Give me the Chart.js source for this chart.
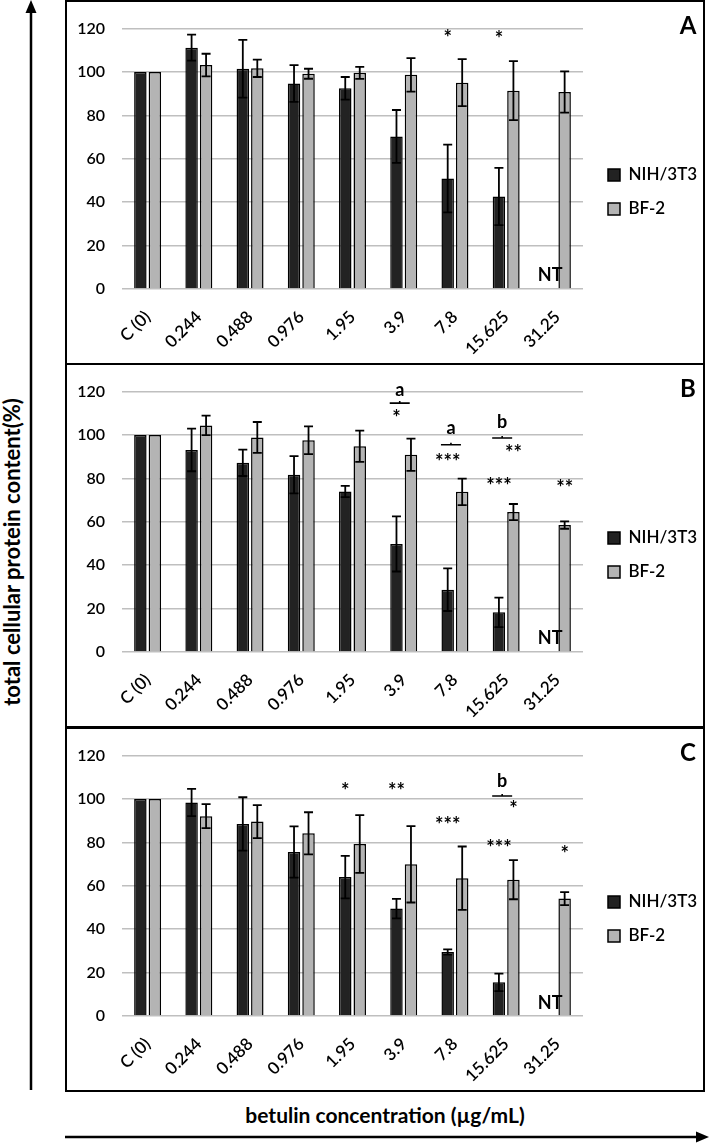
<!DOCTYPE html>
<html>
<head>
<meta charset="utf-8">
<script src="https://cdn.jsdelivr.net/npm/chart.js@4.4.1/dist/chart.umd.min.js"></script>
<style>
  html, body { margin: 0; padding: 0; background: #fff; }
  body { width: 709px; height: 1143px; position: relative; overflow: hidden; font-family: Lato, sans-serif; }
  .panel { position: absolute; left: 65px; width: 636px; height: 361px; border: 2px solid #000; }
  .panel canvas { position: absolute; left: 0; top: 0; }
  .letter { position: absolute; left: 606px; width: 30px; top: 9px; text-align: center; font: bold 24px Lato, sans-serif; line-height: 28px; }
  #ytitle { position: absolute; left: 11px; top: 552px; transform: translate(-50%, -50%) rotate(-90deg); white-space: nowrap; font: bold 22px Lato, sans-serif; }
  #xtitle { position: absolute; left: 385px; top: 1114px; transform: translate(-50%, -50%); white-space: nowrap; font: bold 21px Lato, sans-serif; }
  svg { position: absolute; left: 0; top: 0; }
</style>
</head>
<body>
<svg width="709" height="1143">
  <line x1="31" y1="1090" x2="31" y2="10" stroke="#000" stroke-width="2.5"/>
  <polygon points="31,0 25.5,13 36.5,13" fill="#000"/>
  <line x1="65" y1="1137" x2="698" y2="1137" stroke="#000" stroke-width="2.5"/>
  <polygon points="709,1137 696,1131.5 696,1142.5" fill="#000"/>
</svg>
<div class="panel" style="top:0px"><canvas id="chartA" width="636" height="361"></canvas><div class="letter">A</div></div>
<div class="panel" style="top:363px"><canvas id="chartB" width="636" height="361"></canvas><div class="letter">B</div></div>
<div class="panel" style="top:727px"><canvas id="chartC" width="636" height="361"></canvas><div class="letter">C</div></div>
<div id="ytitle">total cellular protein content(%)</div>
<div id="xtitle">betulin concentration (µg/mL)</div>
<script>
const categories = ['C (0)', '0.244', '0.488', '0.976', '1.95', '3.9', '7.8', '15.625', '31.25'];
const yTicks = [0, 20, 40, 60, 80, 100, 120];

// panel A
const nihA = [100, 111.2, 101.5, 94.7, 92.5, 70.3, 50.9, 42.6, null];
const nihErrA = [0, 6, 13.3, 8.5, 5.2, 12.2, 15.6, 13.2, null];
const bfA = [100, 103.2, 101.7, 99.2, 99.6, 98.7, 95.1, 91.4, 90.8];
const bfErrA = [0, 5.2, 4, 2.3, 2.8, 7.7, 10.8, 13.6, 9.5];
const marksA = [
    { cat: '7.8', series: 0, y: 115, text: '*' },
    { cat: '15.625', series: 0, y: 114.3, text: '*' },
    { cat: '31.25', series: 0, y: 6.4, text: 'NT' },
];
const bracketsA = [];

// panel B
const nihB = [100, 93.1, 87.2, 81.7, 74, 49.8, 28.7, 18.3, null];
const nihErrB = [0, 9.8, 6.1, 8.6, 2.6, 12.7, 9.8, 6.8, null];
const bfB = [100, 104.4, 98.9, 97.6, 94.8, 90.9, 73.8, 64.5, 58.5];
const bfErrB = [0, 4.5, 7.1, 6.4, 7.2, 7.4, 6.1, 3.7, 1.7];
const marksB = [
    { cat: '3.9', series: 0, y: 107, text: '*' },
    { cat: '7.8', series: 0, y: 86.9, text: '***' },
    { cat: '15.625', series: 0, y: 75.7, text: '***' },
    { cat: '15.625', series: 1, y: 91, text: '**' },
    { cat: '31.25', series: 1, y: 74.7, text: '**' },
    { cat: '31.25', series: 0, y: 6.2, text: 'NT' },
];
const bracketsB = [
    { cat: '3.9', y: 114.7, label: 'a', labelY: 120.6 },
    { cat: '7.8', y: 95.5, label: 'a', labelY: 103.2 },
    { cat: '15.625', y: 98.6, label: 'b', labelY: 105.7 },
];

// panel C
const nihC = [100, 98.4, 88.5, 75.6, 64, 49.5, 29.5, 15.5, null];
const nihErrC = [0, 6.3, 12.3, 11.8, 9.8, 4.5, 1.2, 4, null];
const bfC = [100, 92.1, 89.6, 84.2, 79.3, 69.9, 63.5, 62.8, 54.1];
const bfErrC = [0, 5.5, 7.6, 9.7, 13.3, 17.6, 14.6, 9, 3];
const marksC = [
    { cat: '1.95', series: 0, y: 102.9, text: '*' },
    { cat: '3.9', series: 0, y: 102.9, text: '**' },
    { cat: '7.8', series: 0, y: 87.1, text: '***' },
    { cat: '15.625', series: 0, y: 76.8, text: '***' },
    { cat: '15.625', series: 1, y: 94.5, text: '*' },
    { cat: '31.25', series: 1, y: 74.1, text: '*' },
    { cat: '31.25', series: 0, y: 6, text: 'NT' },
];
const bracketsC = [
    { cat: '15.625', y: 101.4, label: 'b', labelY: 108.4 },
];

Chart.defaults.font.family = 'Lato, sans-serif';
Chart.defaults.color = '#000';

const errorBars = {
    id: 'errorBars',
    afterDatasetsDraw(chart) {
        const ctx = chart.ctx, ys = chart.scales.y;
        ctx.save();
        ctx.strokeStyle = '#000';
        ctx.lineWidth = 1.8;
        chart.data.datasets.forEach((ds, di) => {
            const meta = chart.getDatasetMeta(di);
            ds.errors.forEach((e, i) => {
                if (!e || ds.data[i] == null) return;
                const x = meta.data[i].x;
                const top = ys.getPixelForValue(ds.data[i] + e);
                const bot = ys.getPixelForValue(ds.data[i] - e);
                ctx.beginPath();
                ctx.moveTo(x, top); ctx.lineTo(x, bot);
                ctx.moveTo(x - 4.5, top); ctx.lineTo(x + 4.5, top);
                ctx.moveTo(x - 4.5, bot); ctx.lineTo(x + 4.5, bot);
                ctx.stroke();
            });
        });
        ctx.restore();
    }
};

// push the legend a little away from the plot, keep plot width fixed
const legendSpot = {
    id: 'legendSpot',
    beforeLayout(chart) {
        const lg = chart.legend;
        if (lg && !lg._patched) {
            const fit = lg.fit;
            lg.fit = function () { fit.call(this); this.width = 120; };
            lg._patched = true;
        }
    },
    afterLayout(chart) {
        chart.legend.left += 8;
        chart.legend.right += 8;
    }
};

function sigPlugin(marks, brackets) {
    return {
        id: 'sig',
        afterDatasetsDraw(chart) {
            const ctx = chart.ctx, ys = chart.scales.y;
            const labels = chart.data.labels;
            const m0 = chart.getDatasetMeta(0), m1 = chart.getDatasetMeta(1);
            ctx.save();
            ctx.fillStyle = '#000';
            ctx.strokeStyle = '#000';
            ctx.textAlign = 'center';
            ctx.textBaseline = 'middle';
            marks.forEach(m => {
                const i = labels.indexOf(m.cat);
                const x = chart.getDatasetMeta(m.series).data[i].x;
                const star = m.text.includes('*');
                ctx.font = 'bold ' + (star ? 20 : 18) + 'px Lato, sans-serif';
                ctx.fillText(m.text, x, ys.getPixelForValue(m.y) + (star ? -1 : 0));
            });
            brackets.forEach(b => {
                const i = labels.indexOf(b.cat);
                const x = (m0.data[i].x + m1.data[i].x) / 2 - 4;
                const yy = ys.getPixelForValue(b.y);
                ctx.lineWidth = 1.6;
                ctx.beginPath();
                ctx.moveTo(x - 10, yy); ctx.lineTo(x + 10, yy);
                ctx.moveTo(x, yy); ctx.lineTo(x, yy - 2);
                ctx.stroke();
                ctx.font = 'bold 18px Lato, sans-serif';
                ctx.fillText(b.label, x, ys.getPixelForValue(b.labelY));
            });
            ctx.restore();
        }
    };
}

function makePanel(id, nih, nihErr, bf, bfErr, marks, brackets) {
    const ctx = document.getElementById(id).getContext('2d');
    return new Chart(ctx, {
        type: 'bar',
        data: {
            labels: categories,
            datasets: [
                { label: 'NIH/3T3', data: nih, errors: nihErr, backgroundColor: '#222222', borderColor: '#000', borderWidth: 1.5 },
                { label: 'BF-2', data: bf, errors: bfErr, backgroundColor: '#b4b4b4', borderColor: '#000', borderWidth: 1.5 },
            ]
        },
        options: {
            responsive: false,
            animation: false,
            categoryPercentage: 0.566,
            barPercentage: 0.86,
            layout: { padding: { top: 19, left: 0, right: 0, bottom: 0 } },
            plugins: {
                tooltip: { enabled: false },
                legend: {
                    position: 'right',
                    labels: { boxWidth: 12, boxHeight: 12, padding: 17, font: { size: 17, weight: '600' }, color: '#000' }
                }
            },
            scales: {
                x: {
                    grid: { display: false },
                    border: { display: false },
                    ticks: { minRotation: 45, maxRotation: 45, autoSkip: false, padding: 10, font: { size: 17, weight: '600' }, color: '#000' },
                    afterFit(s) { s.height = 74; }
                },
                y: {
                    min: 0, max: 120,
                    afterBuildTicks(s) { s.ticks = yTicks.map(v => ({ value: v })); },
                    grid: { color: '#bfbfbf', lineWidth: 1.5, drawTicks: false },
                    border: { display: false },
                    ticks: { padding: 17, font: { size: 16, weight: '600' }, color: '#000' },
                    afterFit(s) { s.width = 55; }
                }
            }
        },
        plugins: [errorBars, legendSpot, sigPlugin(marks, brackets)]
    });
}

makePanel('chartA', nihA, nihErrA, bfA, bfErrA, marksA, bracketsA);
makePanel('chartB', nihB, nihErrB, bfB, bfErrB, marksB, bracketsB);
makePanel('chartC', nihC, nihErrC, bfC, bfErrC, marksC, bracketsC);
</script>
</body>
</html>
